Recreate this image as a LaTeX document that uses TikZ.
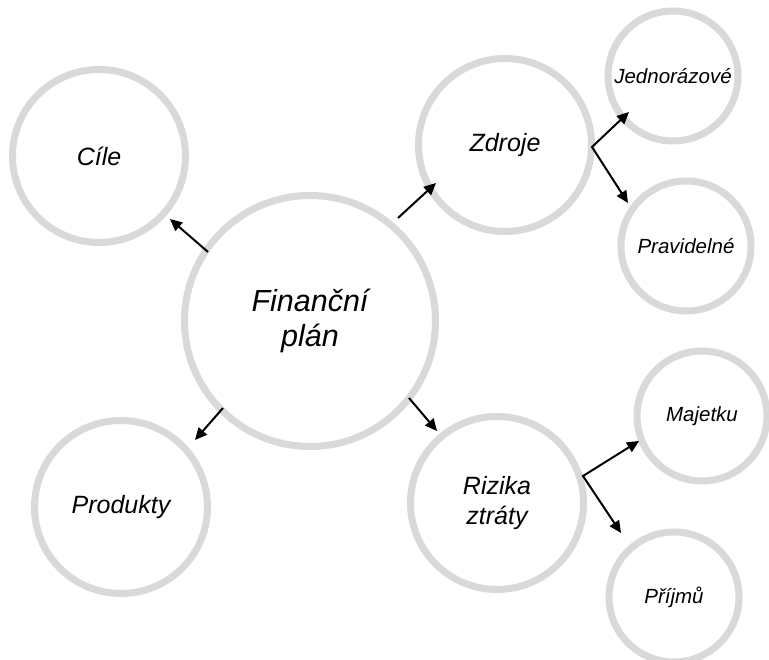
\documentclass[tikz,border=0pt]{standalone}
\usepackage{fontspec}
\setmainfont{Liberation Sans}
\usetikzlibrary{calc,arrows.meta}
\definecolor{ring}{HTML}{D9D9D9}
\begin{document}
\begin{tikzpicture}[x=1pt,y=1pt,
  bubble/.style={circle,draw=ring,line width=7pt,fill=white,inner sep=0pt,outer sep=0pt,align=center,font=\itshape},
  bigb/.style={bubble,minimum size=251pt,font=\fontsize{30.5}{35}\selectfont\itshape},
  midb/.style={bubble,minimum size=173pt,font=\fontsize{25}{30}\selectfont\itshape},
  smallb/.style={bubble,minimum size=130pt,font=\fontsize{20.5}{24}\selectfont\itshape},
  arr/.style={line width=2pt,-{Triangle[length=12pt,width=11pt]}},
  arr2/.style={line width=2pt,{Triangle[length=12pt,width=11pt]}-{Triangle[length=12pt,width=11pt]},line join=miter}]
\useasboundingbox (0,0) rectangle (769,660);
\fill[white] (0,0) rectangle (769,660);
\node[bigb] (fp) at (310,339) {Finanční\\plán};
\node[midb] (ci) at (99,504) {Cíle};
\node[midb] (zd) at (505,515) {Zdroje};
\node[midb] (pr) at (121,153) {Produkty};
\node[midb] (ri) at (497,157) {Rizika\\ztráty};
\node[smallb] (je) at (673,584) {Jednorázové};
\node[smallb] (pv) at (686,414) {Pravidelné};
\node[smallb] (ma) at (702,244) {Majetku};
\node[smallb] (pj) at (674,63) {Příjmů};
\coordinate (zb) at ($(zd)+(87,-2)$);
\coordinate (rb) at ($(ri)+(86,27)$);
\draw[arr] ($(fp)+(-102,69)$) -- ($(ci)+(71,-63)$);
\draw[arr] ($(fp)+(88,103)$) -- ($(zd)+(-69,-38)$);
\draw[arr] ($(fp)+(-87,-87)$) -- ($(pr)+(74,67)$);
\draw[arr] ($(fp)+(99,-77)$) -- ($(ri)+(-60,72)$);
\draw[arr2] ($(je)+(-44,-36)$) -- (zb) -- ($(pv)+(-58,43)$);
\draw[arr2] ($(ma)+(-63,-25)$) -- (rb) -- ($(pj)+(-53,64)$);
\end{tikzpicture}
\end{document}
